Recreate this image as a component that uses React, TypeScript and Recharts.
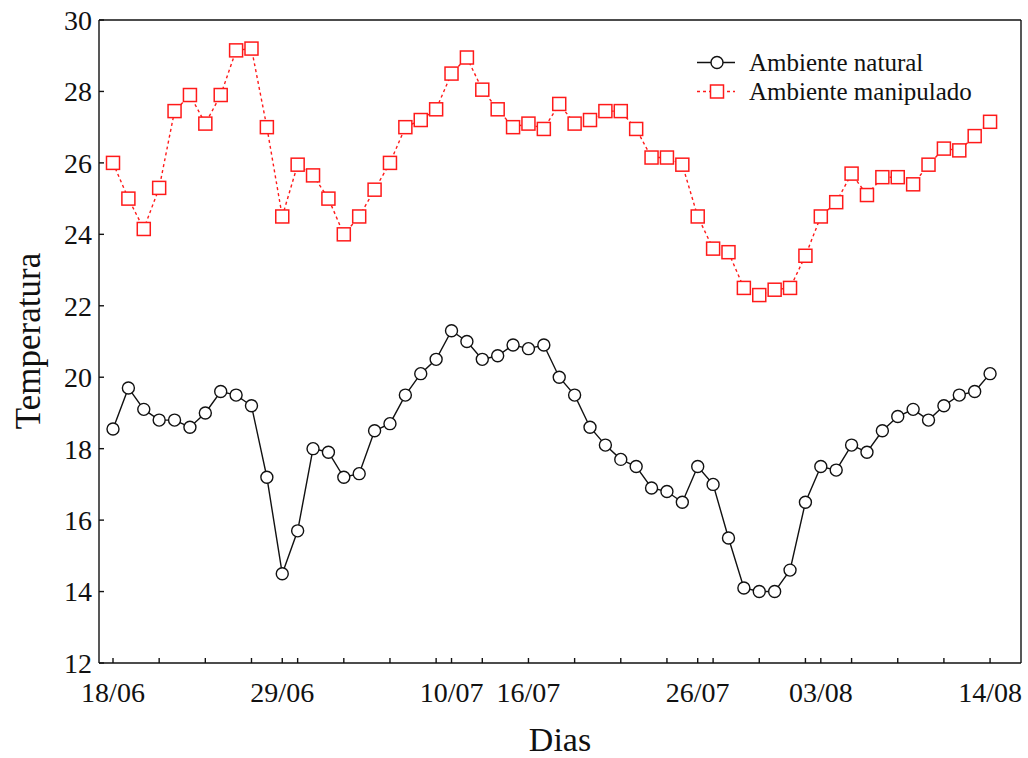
import React from 'react';
import { LineChart, Line, XAxis, YAxis, Legend } from 'recharts';

// daily means, 18/06 .. 14/08
const natural = [
  18.55, 19.7, 19.1, 18.8, 18.8, 18.6, 19.0, 19.6, 19.5, 19.2,
  17.2, 14.5, 15.7, 18.0, 17.9, 17.2, 17.3, 18.5, 18.7, 19.5,
  20.1, 20.5, 21.3, 21.0, 20.5, 20.6, 20.9, 20.8, 20.9, 20.0,
  19.5, 18.6, 18.1, 17.7, 17.5, 16.9, 16.8, 16.5, 17.5, 17.0,
  15.5, 14.1, 14.0, 14.0, 14.6, 16.5, 17.5, 17.4, 18.1, 17.9,
  18.5, 18.9, 19.1, 18.8, 19.2, 19.5, 19.6, 20.1,
];

const manipulated = [
  26.0, 25.0, 24.15, 25.3, 27.45, 27.9, 27.1, 27.9, 29.15, 29.2,
  27.0, 24.5, 25.95, 25.65, 25.0, 24.0, 24.5, 25.25, 26.0, 27.0,
  27.2, 27.5, 28.5, 28.95, 28.05, 27.5, 27.0, 27.1, 26.95, 27.65,
  27.1, 27.2, 27.45, 27.45, 26.95, 26.15, 26.15, 25.95, 24.5, 23.6,
  23.5, 22.5, 22.3, 22.45, 22.5, 23.4, 24.5, 24.9, 25.7, 25.1,
  25.6, 25.6, 25.4, 25.95, 26.4, 26.35, 26.75, 27.15,
];

// labelled ticks (day index from 18/06) and their text
const labelDays = [0, 11, 22, 27, 38, 46, 57];
const labelText = ['18/06', '29/06', '10/07', '16/07', '26/07', '03/08', '14/08'];
// unlabelled ticks every third day
const stepDays = [0, 3, 6, 9, 12, 15, 18, 21, 24, 27, 30, 33, 36, 39, 42, 45, 48, 51, 54, 57];
const bottomDays = Array.from(new Set([...stepDays, ...labelDays])).sort((a, b) => a - b);

const yTicks = [12, 14, 16, 18, 20, 22, 24, 26, 28, 30];

const data = natural.map((v, i) => ({ day: i, natural: v, manipulated: manipulated[i] }));

const FONT = '"Liberation Serif", "Times New Roman", serif';
const INK = '#111';
const RED = '#ff1a1a';

const DateTick = (props: any) => {
  const { x, y, payload } = props;
  const idx = labelDays.indexOf(payload.value);
  if (idx < 0) return <g />;
  return (
    <text x={x} y={y} dy="0.71em" textAnchor="middle" fontSize={28} fontFamily={FONT} fill={INK}>
      {labelText[idx]}
    </text>
  );
};

const CircleDot = (props: any) => {
  const { cx, cy, index } = props;
  return <circle key={`c-${index}`} cx={cx} cy={cy} r={6} fill="#fff" stroke={INK} strokeWidth={1.4} />;
};

const SquareDot = (props: any) => {
  const { cx, cy, index } = props;
  return (
    <rect key={`s-${index}`} x={cx - 6.5} y={cy - 6.5} width={13} height={13} fill="#fff" stroke={RED} strokeWidth={1.5} />
  );
};

const LegendBox = () => (
  <div style={{ fontFamily: FONT, fontSize: 25, color: INK, lineHeight: '29px' }}>
    <div style={{ display: 'flex', alignItems: 'center' }}>
      <svg width={40} height={29} style={{ marginRight: 12 }}>
        <line x1={0} y1={14.5} x2={38} y2={14.5} stroke={INK} strokeWidth={1.4} />
        <circle cx={20} cy={14.5} r={6} fill="#fff" stroke={INK} strokeWidth={1.4} />
      </svg>
      <span>Ambiente natural</span>
    </div>
    <div style={{ display: 'flex', alignItems: 'center' }}>
      <svg width={40} height={29} style={{ marginRight: 12 }}>
        <line x1={0} y1={14.5} x2={38} y2={14.5} stroke={RED} strokeWidth={1.4} strokeDasharray="3 3" />
        <rect x={13.5} y={8} width={13} height={13} fill="#fff" stroke={RED} strokeWidth={1.5} />
      </svg>
      <span>Ambiente manipulado</span>
    </div>
  </div>
);

const axisStroke = { stroke: INK, strokeWidth: 1.4 };

export default function App() {
  return (
    <div style={{ position: 'absolute', top: 0, left: 0 }}>
      <LineChart width={1028} height={758} data={data} margin={{ top: 19, right: 6, bottom: 94, left: 98 }}>
        <XAxis
          dataKey="day"
          type="number"
          domain={[-0.91, 59.01]}
          allowDataOverflow
          ticks={bottomDays}
          interval={0}
          height={1}
          tickSize={-5}
          tickMargin={24}
          tick={<DateTick />}
          axisLine={axisStroke}
          tickLine={axisStroke}
          label={{
            content: () => (
              <text x={560} y={751} textAnchor="middle" fontSize={34} fontFamily={FONT} fill={INK}>
                Dias
              </text>
            ),
          }}
        />
        <XAxis
          xAxisId="top"
          orientation="top"
          dataKey="day"
          type="number"
          domain={[-0.91, 59.01]}
          allowDataOverflow
          ticks={stepDays}
          interval={0}
          height={1}
          tickSize={-5}
          tick={false}
          axisLine={axisStroke}
          tickLine={axisStroke}
        />
        <YAxis
          type="number"
          domain={[12, 30]}
          ticks={yTicks}
          interval={0}
          width={1}
          tickSize={-5}
          tickMargin={12}
          tick={{ fontSize: 28, fontFamily: FONT, fill: INK }}
          axisLine={axisStroke}
          tickLine={axisStroke}
          label={{
            content: () => (
              <text
                x={0}
                y={0}
                transform="translate(40, 341) rotate(-90)"
                textAnchor="middle"
                fontSize={35}
                fontFamily={FONT}
                fill={INK}
              >
                Temperatura
              </text>
            ),
          }}
        />
        <YAxis
          yAxisId="right"
          orientation="right"
          type="number"
          domain={[12, 30]}
          ticks={yTicks}
          interval={0}
          width={1}
          tickSize={-5}
          tick={false}
          axisLine={axisStroke}
          tickLine={axisStroke}
        />
        <Legend
          layout="horizontal"
          verticalAlign="middle"
          align="center"
          wrapperStyle={{ top: 48, left: 697, width: 'auto' }}
          content={<LegendBox />}
        />
        <Line
          dataKey="natural"
          stroke={INK}
          strokeWidth={1.4}
          dot={CircleDot}
          activeDot={false}
          isAnimationActive={false}
        />
        <Line
          dataKey="manipulated"
          stroke={RED}
          strokeWidth={1.4}
          strokeDasharray="3 3"
          dot={SquareDot}
          activeDot={false}
          isAnimationActive={false}
        />
      </LineChart>
    </div>
  );
}
